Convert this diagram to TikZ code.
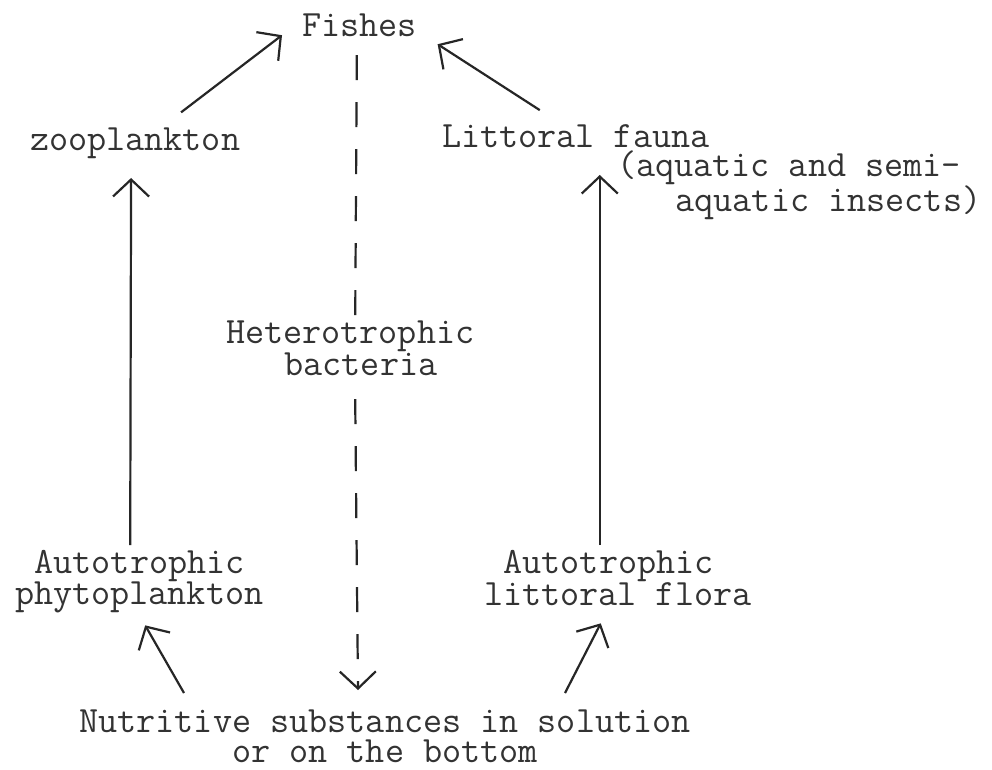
\documentclass[tikz,border=0pt]{standalone}
\usepackage{fontspec}
\usetikzlibrary{arrows.meta}
\newcommand{\toprule}{\rule{0pt}{30pt}}
\begin{document}
\begin{tikzpicture}[x=1pt,y=-1pt,
  lbl/.style={inner sep=0pt, outer sep=0pt, font=\ttfamily\fontsize{37.1}{30}\selectfont, text=black!80},
  arr/.style={line width=2.2pt, draw=black!85, -{Straight Barb[length=17pt,width=36pt]}},
  dsh/.style={line width=2.2pt, draw=black!85, dash pattern=on 25pt off 22pt}]
\useasboundingbox[fill=white] (0,0) rectangle (992,770);
% labels
\node[lbl,anchor=base west] (fish) at (302,37) {Fishes};
\node[lbl,anchor=base west] (zoo) at (30,151) {zooplankton};
\node[lbl,anchor=base west] (lf) at (442,148) {Littoral fauna};
\node[lbl,anchor=north west,align=left,font=\ttfamily\fontsize{37.1}{27}\selectfont] (lfx) at (617,147)
  {\toprule(aquatic and semi-\\\hspace*{58.5pt}aquatic insects)};
\node[lbl,anchor=north west,align=left,font=\ttfamily\fontsize{37.1}{32}\selectfont] (het) at (226,313)
  {\toprule Heterotrophic\\\hspace*{58.5pt}bacteria};
\node[lbl,anchor=north west,align=left] (ap) at (15,543)
  {\toprule\hspace*{19.5pt}Autotrophic\\phytoplankton};
\node[lbl,anchor=north west,align=left] (af) at (484,543)
  {\toprule\hspace*{19.5pt}Autotrophic\\littoral flora};
\node[lbl,anchor=north,align=center] (nut) at (385,702)
  {\toprule Nutritive substances in solution\\or on the bottom};
% connectors
\draw[arr] ([xshift=46pt,yshift=16pt]zoo.north) -- ([xshift=-20pt,yshift=2pt]fish.south west);
\draw[arr] ([xshift=-36pt,yshift=15pt]lf.north) -- ([xshift=21pt,yshift=-7pt]fish.south east);
\draw[arr] ([xshift=-9pt,yshift=-2pt]ap.north) -- ([xshift=-4pt,yshift=-27pt]zoo.base);
\draw[arr] ([xshift=-18pt,yshift=-2pt]af.north) -- ([xshift=24pt,yshift=-27pt]lf.base);
\draw[arr] ([xshift=-201pt,yshift=9pt]nut.north) -- ([xshift=6pt,yshift=-12pt]ap.south);
\draw[arr] ([xshift=180pt,yshift=9pt]nut.north) -- ([xshift=-17pt,yshift=-18pt]af.south);
\draw[dsh] ([xshift=-2.5pt,yshift=-18pt]fish.south) -- ([xshift=5pt,yshift=-9pt]het.north);
\draw[dsh,arr] ([xshift=5pt,yshift=-24pt]het.south) -- ([xshift=-27pt,yshift=12pt]nut.north);
\end{tikzpicture}
\end{document}
